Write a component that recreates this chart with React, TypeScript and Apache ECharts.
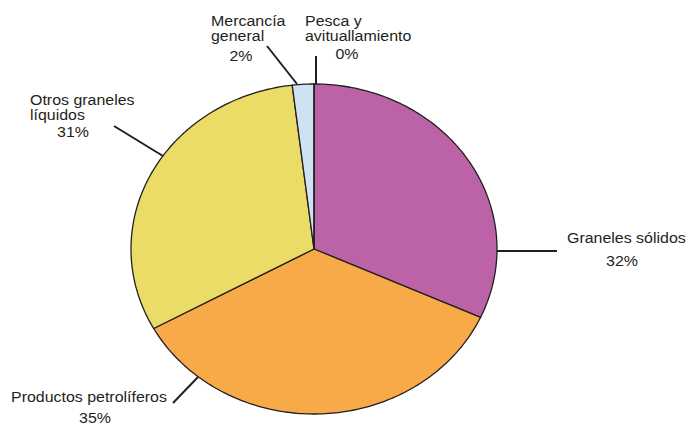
import React, { useEffect, useRef } from "react";
import * as echarts from "echarts";

const categories = [
  "Graneles sólidos",
  "Productos petrolíferos",
  "Otros graneles líquidos",
  "Mercancía general",
  "Pesca y avituallamiento",
];
const values = [31.8, 35.2, 31.1, 1.9, 0];
const nameLines = [
  ["Graneles sólidos"],
  ["Productos petrolíferos"],
  ["Otros graneles", "líquidos"],
  ["Mercancía", "general"],
  ["Pesca y", "avituallamiento"],
];
const colors = ["#bc63a8", "#f8a948", "#ebdc67", "#cfe2f2", "#cfe2f2"];

// layout
const CX = 314;
const CY = 249;
const RX = 183;
const RY = 165;
const TEXT = "#231f20";
const FONT = "Liberation Sans, Arial, Helvetica, sans-serif";
const labelPos = [
  { nx: 567, ny: 238, px: 622, py: 261, line: [497, 251, 557, 251] },
  { nx: 11, ny: 397, px: 95, py: 418, line: [198, 377, 173, 403] },
  { nx: 30, ny: 100, px: 73, py: 132, line: [163, 156, 114, 126] },
  { nx: 211, ny: 21, px: 241, py: 56, line: [297, 84, 267, 46] },
  { nx: 305, ny: 21, px: 347, py: 54, line: [316, 84, 316, 56] },
];

export default function App() {
  const ref = useRef<HTMLDivElement>(null);
  useEffect(() => {
    if (!ref.current) return;
    const chart = echarts.init(ref.current, null, { renderer: "svg" });
    const total = values.reduce((a, b) => a + b, 0);
    const cum: number[] = [0];
    values.forEach((v, i) => cum.push(cum[i] + v));

    const graphics: any[] = [];
    categories.forEach((c, i) => {
      const p = labelPos[i];
      graphics.push({
        type: "line",
        shape: { x1: p.line[0], y1: p.line[1], x2: p.line[2], y2: p.line[3] },
        style: { stroke: TEXT, lineWidth: 2 },
        z: 10,
      });
      nameLines[i].forEach((t, k) => {
        graphics.push({
          type: "text",
          x: p.nx,
          y: p.ny + k * 14.5,
          scaleX: 1.1,
          style: {
            text: t,
            fill: TEXT,
            font: `14.5px ${FONT}`,
            textAlign: "left",
            textVerticalAlign: "middle",
          },
          z: 10,
        });
      });
      graphics.push({
        type: "text",
        x: p.px,
        y: p.py,
        scaleX: 1.1,
        style: {
          text: `${Math.round(values[i])}%`,
          fill: TEXT,
          font: `14.5px ${FONT}`,
          textAlign: "center",
          textVerticalAlign: "middle",
        },
        z: 10,
      });
    });

    chart.setOption({
      animation: false,
      backgroundColor: "#ffffff",
      series: [
        {
          type: "custom",
          coordinateSystem: "none",
          data: values.map((v, i) => ({ name: categories[i], value: [v] })),
          renderItem: (params: any, api: any) => {
            const i = params.dataIndex;
            const v = api.value(0);
            const start = (cum[i] / total) * Math.PI * 2;
            const end = ((cum[i] + v) / total) * Math.PI * 2;
            const n = Math.max(2, Math.ceil(((end - start) / (Math.PI * 2)) * 360));
            const pts: number[][] = [[CX, CY]];
            for (let k = 0; k <= n; k++) {
              const t = start + ((end - start) * k) / n;
              pts.push([CX + RX * Math.sin(t), CY - RY * Math.cos(t)]);
            }
            return {
              type: "polygon",
              shape: { points: pts },
              style: {
                fill: colors[i],
                stroke: TEXT,
                lineWidth: 1.3,
                lineJoin: "round",
              },
            };
          },
        },
      ],
      graphic: graphics,
    });
    return () => chart.dispose();
  }, []);
  return (
    <div
      ref={ref}
      style={{ position: "fixed", left: 0, top: 0, width: 687, height: 425 }}
    />
  );
}
